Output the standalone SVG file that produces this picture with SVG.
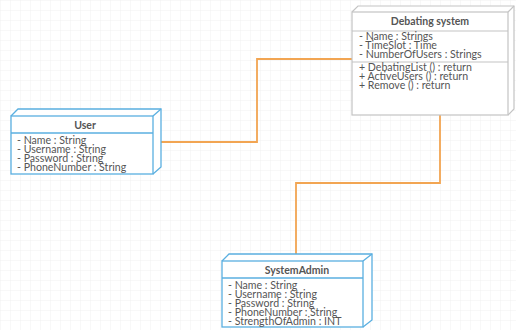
<svg xmlns="http://www.w3.org/2000/svg" width="516" height="330" viewBox="0 0 516 330">
<defs>
<pattern id="grid" width="10" height="10" patternUnits="userSpaceOnUse">
<path d="M10 0H0V10" fill="none" stroke="#eeeeee" stroke-width="0.8"/>
</pattern>
<style>
.t{font-family:Lato,"Liberation Sans",sans-serif;font-size:10.6px;fill:#555}
.h{font-family:Lato,"Liberation Sans",sans-serif;font-size:10.5px;font-weight:bold;fill:#555;text-anchor:middle}
.blue{fill:#fff;stroke:#5aafe0;stroke-width:1.3}
.grey{fill:#fff;stroke:#c4c4c4;stroke-width:1.2}
.con{fill:none;stroke:#f2a552;stroke-width:1.8}
</style>
</defs>
<rect width="516" height="330" fill="#fff"/>
<rect width="516" height="330" fill="url(#grid)"/>
<g id="connectors">
<path class="con" d="M161 142H257V59H352"/>
<path class="con" d="M296 254V183H440V115"/>
</g>
<g id="debating">
<path class="grey" d="M352 12L358 6H514V109L508 115"/>
<path class="grey" d="M508 12L514 6"/>
<rect class="grey" x="352" y="12" width="156" height="103"/>
<line class="grey" x1="352" y1="31" x2="508" y2="31"/>
<line class="grey" x1="352" y1="62" x2="508" y2="62"/>
<text class="h" x="430" y="25">Debating system</text>
<text class="t" x="359" y="40">- Name : Strings</text>
<text class="t" x="359" y="49">- TimeSlot : Time</text>
<text class="t" x="359" y="58">- NumberOfUsers : Strings</text>
<text class="t" x="359" y="71">+ DebatingList () : return</text>
<text class="t" x="359" y="80">+ ActiveUsers () : return</text>
<text class="t" x="359" y="89">+ Remove () : return</text>
</g>
<g id="user">
<path class="blue" d="M11 116L18 109H161V167L153 174"/>
<path class="blue" d="M153 116L161 109"/>
<rect class="blue" x="11" y="116" width="142" height="58"/>
<line class="blue" x1="11" y1="133" x2="153" y2="133"/>
<text class="h" x="85" y="129">User</text>
<text class="t" x="17" y="144">- Name : String</text>
<text class="t" x="17" y="153">- Username : String</text>
<text class="t" x="17" y="162">- Password : String</text>
<text class="t" x="17" y="171">- PhoneNumber : String</text>
</g>
<g id="systemadmin">
<path class="blue" d="M222 261L229 254H372V320L363 327"/>
<path class="blue" d="M363 261L372 254"/>
<rect class="blue" x="222" y="261" width="141" height="66"/>
<line class="blue" x1="222" y1="278" x2="363" y2="278"/>
<text class="h" x="297" y="274">SystemAdmin</text>
<text class="t" x="228" y="289">- Name : String</text>
<text class="t" x="228" y="298">- Username : String</text>
<text class="t" x="228" y="307">- Password : String</text>
<text class="t" x="228" y="316">- PhoneNumber : String</text>
<text class="t" x="228" y="325">- StrengthOfAdmin : INT</text>
</g>
</svg>
